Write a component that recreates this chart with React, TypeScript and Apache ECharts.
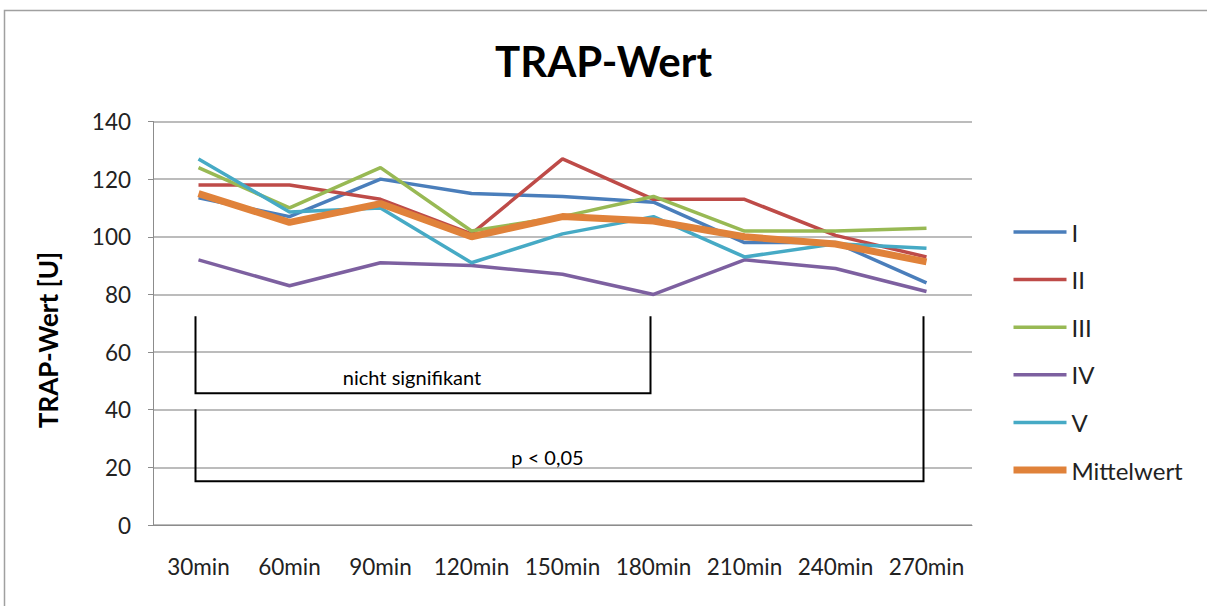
import React, { useEffect, useRef } from "react";
import * as echarts from "echarts";

const categories = ["30min", "60min", "90min", "120min", "150min", "180min", "210min", "240min", "270min"];
const seriesNames = ["I", "II", "III", "IV", "V", "Mittelwert"];
const valuesI = [113.5, 107, 120, 115, 114, 112, 98, 98, 84];
const valuesII = [118, 118, 113, 101, 127, 113, 113, 100.5, 93];
const valuesIII = [124, 110, 124, 102, 107, 114, 102, 102, 103];
const valuesIV = [92, 83, 91, 90, 87, 80, 92, 89, 81];
const valuesV = [127, 108.6, 110, 91, 101, 107, 93, 97.6, 96];
const valuesMittel = [115, 105, 111.5, 100, 107, 105.5, 100, 97.5, 91.3];
const colors = ["#4A7EBB", "#BE4B48", "#98B954", "#7D60A0", "#46AAC5", "#E0823A"];

// significance brackets
const bracketNS = { from: "30min", to: "180min", leftTop: 72.4, rightTop: 72.4, bottom: 45.7, label: "nicht signifikant", labelY: 51.3, labelShift: -14 };
const bracketSig = { from: "30min", to: "270min", leftTop: 40.2, rightTop: 72.4, bottom: 15.2, label: "p < 0,05", labelY: 23.6, labelShift: -15 };

const FONT = "Lato";

export default function App() {
  const ref = useRef<HTMLDivElement>(null);
  useEffect(() => {
    document.body.style.margin = "0";
    document.body.style.overflow = "hidden";
    const chart = echarts.init(ref.current!, null, { renderer: "svg" });
    const data = [valuesI, valuesII, valuesIII, valuesIV, valuesV, valuesMittel];
    chart.setOption({
      animation: false,
      color: colors,
      title: {
        text: "TRAP-Wert",
        left: "center",
        top: 35,
        textStyle: { fontFamily: FONT, fontWeight: "bold", fontSize: 42, color: "#000" },
      },
      grid: { left: 153, right: 235, top: 121.5, bottom: 81 },
      legend: {
        orient: "vertical",
        left: 1010,
        top: 220,
        padding: 0,
        itemWidth: 53,
        itemHeight: 14,
        itemGap: 23.6,
        data: seriesNames,
        itemStyle: { opacity: 0 },
        lineStyle: { width: "inherit" },
        textStyle: { fontFamily: FONT, fontSize: 24, color: "#222", lineHeight: 24 },
      },
      xAxis: {
        type: "category",
        data: categories,
        boundaryGap: true,
        axisLine: { lineStyle: { color: "#8c8c8c", width: 1 } },
        axisTick: { show: false },
        axisLabel: { fontFamily: FONT, fontSize: 22.5, color: "#222", margin: 30, interval: 0 },
      },
      yAxis: {
        type: "value",
        min: 0,
        max: 140,
        interval: 20,
        axisLine: { show: true, lineStyle: { color: "#8c8c8c", width: 1 } },
        axisTick: { show: true, length: 5, lineStyle: { color: "#8c8c8c" } },
        axisLabel: { fontFamily: FONT, fontSize: 22.5, color: "#222", margin: 22 },
        splitLine: { lineStyle: { color: "#a6a6a6", width: 1.5 } },
      },
      series: seriesNames.map((n, i) => ({
        name: n,
        type: "line",
        data: data[i],
        symbol: "none",
        lineStyle: { width: i === 5 ? 7 : 3.5, color: colors[i] },
        itemStyle: { color: colors[i] },
        z: i === 5 ? 3 : 2,
      })),
    });

    const px = (c: string, v: number) => chart.convertToPixel({ xAxisIndex: 0, yAxisIndex: 0 }, [c, v]) as number[];
    const graphics: any[] = [
      { type: "rect", shape: { x: 4.5, y: 10.5, width: 1300, height: 800 }, style: { fill: "none", stroke: "#a0a0a0", lineWidth: 1.5 }, silent: true },
      {
        type: "text",
        x: 48,
        y: 340,
        rotation: Math.PI / 2,
        style: { text: "TRAP-Wert [U]", fontFamily: FONT, fontWeight: "bold", fontSize: 26, fill: "#000", align: "center", verticalAlign: "middle" },
      },
    ];
    for (const b of [bracketNS, bracketSig]) {
      const lt = px(b.from, b.leftTop);
      const lb = px(b.from, b.bottom);
      const rt = px(b.to, b.rightTop);
      const rb = px(b.to, b.bottom);
      const dx = -3;
      graphics.push({
        type: "polyline",
        shape: { points: [[lt[0] + dx, lt[1]], [lb[0] + dx, lb[1]], [rb[0] + dx, rb[1]], [rt[0] + dx, rt[1]]] },
        style: { stroke: "#000", lineWidth: 2, fill: "none" },
        silent: true,
      });
      const ly = px(b.from, b.labelY)[1];
      graphics.push({
        type: "text",
        x: (lb[0] + rb[0]) / 2 + b.labelShift,
        y: ly,
        style: { text: b.label, fontFamily: FONT, fontSize: 20, fill: "#000", align: "center", verticalAlign: "middle" },
      });
    }
    chart.setOption({ graphic: graphics });
    return () => chart.dispose();
  }, []);
  return <div ref={ref} style={{ width: 1207, height: 606 }} />;
}
